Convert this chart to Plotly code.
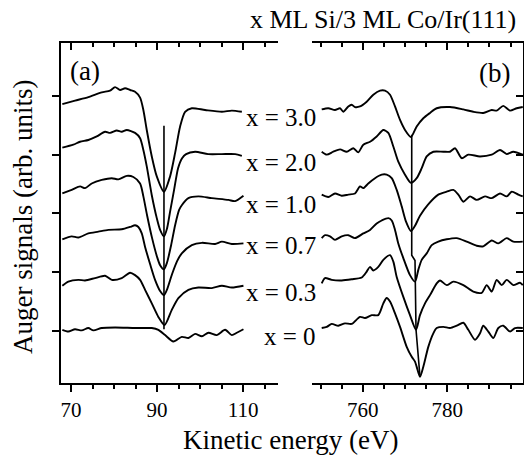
import plotly.graph_objects as go

# ---------------- data: panel (a), Si LVV region (eV, arb. units) ----------------
a30_x = [67.98, 70.93, 74.02, 77.14, 79.07, 80.23, 81.40, 82.56, 83.72, 84.88, 86.05, 86.81, 87.60, 88.77, 89.93, 91.6, 93.02, 94.19, 95.35, 96.51, 98.07, 101.16, 105.05, 107.37, 109.70]
a30_y = [3.86, 3.92, 3.98, 4.06, 4.09, 4.15, 4.10, 4.13, 4.10, 4.07, 3.97, 3.76, 3.42, 2.97, 2.63, 2.37, 2.63, 3.03, 3.48, 3.73, 3.79, 3.76, 3.73, 3.75, 3.73]

a20_x = [67.98, 70.53, 72.09, 74.02, 75.98, 77.91, 79.07, 80.63, 81.79, 82.95, 84.88, 86.05, 86.81, 87.60, 88.77, 89.93, 90.70, 91.6, 92.33, 93.02, 93.95, 94.88, 95.81, 96.74, 98.84, 101.86, 105.05, 108.14, 109.70]
a20_y = [3.12, 3.17, 3.22, 3.25, 3.31, 3.39, 3.37, 3.41, 3.39, 3.42, 3.37, 3.28, 3.08, 2.80, 2.31, 1.92, 1.72, 1.61, 1.75, 2.03, 2.40, 2.77, 2.94, 3.01, 3.05, 3.01, 3.01, 3.01, 2.98]

a10_x = [67.98, 70.16, 72.09, 73.26, 74.81, 77.14, 79.47, 81.00, 82.95, 84.49, 86.05, 86.81, 87.67, 88.84, 90.00, 90.70, 91.6, 92.33, 93.26, 94.19, 95.12, 95.74, 97.28, 99.60, 102.72, 106.58, 108.14, 110.07]
a10_y = [2.34, 2.40, 2.46, 2.43, 2.51, 2.57, 2.60, 2.58, 2.64, 2.62, 2.51, 2.29, 1.97, 1.58, 1.26, 1.12, 1.05, 1.17, 1.46, 1.80, 2.06, 2.14, 2.26, 2.29, 2.26, 2.23, 2.21, 2.30]

a07_x = [67.98, 70.16, 71.70, 74.02, 76.35, 78.67, 81.79, 83.72, 84.88, 85.65, 86.44, 87.21, 88.37, 89.53, 90.70, 91.6, 92.33, 93.49, 94.65, 95.74, 98.07, 100.40, 103.49, 105.05, 107.37, 110.07]
a07_y = [1.56, 1.61, 1.59, 1.66, 1.69, 1.72, 1.73, 1.77, 1.80, 1.77, 1.66, 1.43, 1.14, 0.87, 0.68, 0.61, 0.71, 0.97, 1.19, 1.32, 1.46, 1.50, 1.48, 1.52, 1.48, 1.49]

a03_x = [67.98, 69.37, 71.70, 73.26, 75.58, 77.91, 79.47, 81.79, 83.72, 84.88, 86.05, 87.21, 88.77, 90.30, 91.74, 93.42, 94.95, 97.28, 99.60, 102.72, 105.05, 107.37, 110.07]
a03_y = [0.77, 0.84, 0.87, 0.86, 0.90, 0.94, 0.87, 0.90, 0.99, 0.95, 0.87, 0.70, 0.47, 0.24, 0.10, 0.36, 0.56, 0.70, 0.74, 0.73, 0.77, 0.74, 0.77]

a00_x = [67.98, 69.37, 70.93, 72.49, 74.02, 75.19, 77.14, 80.23, 84.88, 87.21, 88.77, 90.30, 91.86, 93.79, 95.74, 97.28, 98.84, 100.40, 101.93, 103.88, 105.81, 107.37, 108.53, 110.07]
a00_y = [0.02, -0.01, 0.03, 0.01, 0.05, 0.01, 0.05, 0.06, 0.05, 0.05, 0.05, 0.02, -0.07, -0.18, -0.10, -0.12, -0.05, -0.09, -0.03, -0.07, 0.02, -0.07, -0.03, 0.03]

a_marker_x = [91.6, 91.6]
a_marker_y = [3.49, 0.03]

# ---------------- data: panel (b), Co LMM region ----------------
b30_x = [750.26, 751.82, 753.41, 754.60, 755.38, 756.56, 757.37, 758.15, 759.34, 760.92, 762.49, 764.08, 765.26, 766.45, 767.63, 768.82, 770.0, 771.4, 772.77, 774.34, 775.92, 777.51, 780.66, 783.82, 786.18, 788.55, 790.55, 791.73, 793.29, 794.88, 796.47, 797.9]
b30_y = [3.77, 3.79, 3.76, 3.79, 3.73, 3.82, 3.85, 3.81, 3.82, 3.90, 4.02, 4.09, 4.09, 4.02, 3.82, 3.59, 3.42, 3.30, 3.48, 3.62, 3.71, 3.79, 3.81, 3.77, 3.73, 3.71, 3.76, 3.75, 3.83, 3.75, 3.79, 3.81]

b20_x = [750.26, 751.45, 753.01, 754.60, 756.18, 757.75, 758.93, 760.12, 761.71, 763.29, 764.86, 766.04, 767.23, 768.41, 770.0, 771.4, 772.77, 773.96, 775.14, 776.71, 779.08, 780.66, 781.85, 783.44, 785.0, 787.77, 790.55, 792.51, 794.10, 795.66, 797.9]
b20_y = [3.05, 3.00, 3.05, 3.09, 3.05, 3.11, 3.04, 3.17, 3.22, 3.31, 3.42, 3.37, 3.14, 2.88, 2.66, 2.52, 2.60, 2.77, 2.97, 3.05, 3.05, 3.05, 3.11, 2.94, 3.00, 2.97, 3.00, 3.08, 3.01, 3.05, 3.00]

b10_x = [750.26, 751.82, 753.41, 755.0, 756.56, 758.15, 759.34, 760.12, 761.30, 762.89, 764.48, 765.66, 766.85, 768.03, 769.22, 770.24, 771.4, 772.37, 773.55, 775.45, 777.89, 779.88, 781.45, 782.63, 783.82, 785.40, 786.99, 788.96, 790.55, 792.51, 794.10, 795.28, 796.85, 797.9]
b10_y = [2.32, 2.28, 2.34, 2.30, 2.32, 2.34, 2.46, 2.43, 2.51, 2.60, 2.66, 2.66, 2.60, 2.40, 2.12, 1.86, 1.70, 1.79, 1.96, 2.15, 2.32, 2.37, 2.40, 2.32, 2.20, 2.29, 2.23, 2.29, 2.26, 2.34, 2.29, 2.37, 2.32, 2.29]

b07_x = [750.26, 751.04, 752.23, 753.41, 755.0, 756.56, 758.15, 760.12, 761.71, 763.29, 764.48, 766.04, 766.85, 767.63, 768.41, 769.60, 771.18, 772.37, 773.15, 773.96, 775.14, 776.33, 777.89, 779.88, 782.25, 784.62, 786.99, 788.55, 790.55, 792.11, 794.10, 795.66, 797.9]
b07_y = [1.58, 1.63, 1.61, 1.55, 1.61, 1.63, 1.58, 1.66, 1.72, 1.83, 1.88, 1.92, 1.88, 1.72, 1.49, 1.24, 0.95, 0.84, 1.04, 1.21, 1.32, 1.46, 1.52, 1.56, 1.58, 1.52, 1.45, 1.44, 1.54, 1.49, 1.58, 1.52, 1.52]

b03_x = [750.26, 751.04, 752.63, 755.0, 757.37, 759.74, 760.92, 761.71, 762.49, 763.67, 764.86, 766.45, 767.23, 768.03, 769.60, 771.18, 772.61, 773.55, 774.74, 775.92, 777.51, 778.29, 779.88, 781.45, 783.82, 786.18, 788.18, 789.36, 790.55, 791.73, 792.91, 794.10, 795.66, 797.25, 797.9]
b03_y = [0.81, 0.90, 0.87, 0.86, 0.88, 0.91, 1.01, 1.09, 1.03, 1.09, 1.21, 1.29, 1.18, 0.92, 0.58, 0.27, 0.02, 0.27, 0.47, 0.61, 0.81, 0.86, 0.78, 0.84, 0.78, 0.67, 0.65, 0.78, 0.67, 0.87, 0.78, 0.87, 0.78, 0.82, 0.78]

b00_x = [750.26, 751.45, 752.63, 754.19, 755.78, 757.37, 759.34, 760.52, 762.11, 763.67, 764.86, 765.66, 766.45, 767.63, 768.82, 770.40, 771.59, 772.37, 772.77, 773.55, 774.34, 775.52, 776.71, 777.51, 779.08, 780.66, 782.25, 783.82, 785.0, 786.59, 787.77, 788.55, 789.74, 790.92, 792.11, 793.29, 794.88, 796.07, 797.9]
b00_y = [0.05, 0.07, 0.12, 0.09, 0.13, 0.12, 0.24, 0.22, 0.27, 0.27, 0.47, 0.56, 0.50, 0.30, 0.07, -0.27, -0.44, -0.52, -0.61, -0.78, -0.61, -0.27, -0.04, 0.05, 0.07, 0.05, 0.09, 0.14, 0.02, -0.15, -0.04, 0.09, -0.01, -0.12, 0.05, 0.09, -0.01, 0.05, 0.05]

b_marker_x = [771.59, 771.59, 772.37, 772.61, 773.55]
b_marker_y = [3.34, 1.29, 1.20, 0.02, -0.78]

coverage_labels = ["x = 3.0", "x = 2.0", "x = 1.0", "x = 0.7", "x = 0.3", "x = 0"]
label_y = [3.63, 2.86, 2.15, 1.45, 0.65, -0.10]

a_ticks = [70, 90, 110]
b_ticks = [760, 780]
y_ticks = [0, 1, 2, 3, 4]

# ---------------- figure ----------------
FONT = "Liberation Serif"
LW = 1.9
fig = go.Figure()

panel_a = [(a30_x, a30_y), (a20_x, a20_y), (a10_x, a10_y), (a07_x, a07_y), (a03_x, a03_y), (a00_x, a00_y)]
panel_b = [(b30_x, b30_y), (b20_x, b20_y), (b10_x, b10_y), (b07_x, b07_y), (b03_x, b03_y), (b00_x, b00_y)]

for xs, ys in panel_a:
    fig.add_trace(go.Scatter(x=xs, y=ys, mode="lines", xaxis="x", yaxis="y",
                             line=dict(color="black", width=LW, shape="spline", smoothing=0.7),
                             showlegend=False, hoverinfo="skip"))
for xs, ys in panel_b:
    fig.add_trace(go.Scatter(x=xs, y=ys, mode="lines", xaxis="x2", yaxis="y2",
                             line=dict(color="black", width=LW, shape="spline", smoothing=0.7),
                             showlegend=False, hoverinfo="skip"))

fig.add_trace(go.Scatter(x=a_marker_x, y=a_marker_y, mode="lines", xaxis="x", yaxis="y",
                         line=dict(color="black", width=1.6), showlegend=False, hoverinfo="skip"))
fig.add_trace(go.Scatter(x=b_marker_x, y=b_marker_y, mode="lines", xaxis="x2", yaxis="y2",
                         line=dict(color="black", width=1.6), showlegend=False, hoverinfo="skip"))

L, R, T, B = 61, 1, 43, 78
W, H = 524, 461
pw = W - L - R
ph = H - T - B
dom_a = [0, (278 - L) / pw]
dom_b = [(312 - L) / pw, 1]
xr_a = [67.67, 118.1]
xr_b = [747.96, 797.96]
yr = [-0.885, 4.90]

axis_common = dict(showline=True, linecolor="black", linewidth=2, showgrid=False, zeroline=False,
                   tickcolor="black", tickwidth=2,
                   tickfont=dict(family=FONT, size=21, color="black"))

fig.update_layout(
    width=W, height=H, margin=dict(l=L, r=R, t=T, b=B),
    paper_bgcolor="white", plot_bgcolor="white",
    font=dict(family=FONT, color="black"),
    xaxis=dict(domain=dom_a, range=xr_a, anchor="y", ticks="outside", ticklen=7,
               tickmode="array", tickvals=a_ticks,
               minor=dict(ticks="outside", ticklen=4, tickwidth=2, tickcolor="black", tick0=0, dtick=5),
               **axis_common),
    xaxis2=dict(domain=dom_b, range=xr_b, anchor="y2", ticks="outside", ticklen=7,
                tickmode="array", tickvals=b_ticks,
                minor=dict(ticks="outside", ticklen=4, tickwidth=2, tickcolor="black", tick0=0, dtick=5),
                **axis_common),
    xaxis3=dict(overlaying="x", matches="x", side="top", anchor="y", ticks="inside", ticklen=7,
                tickmode="array", tickvals=a_ticks, showticklabels=False,
                minor=dict(ticks="inside", ticklen=4, tickwidth=2, tickcolor="black", tick0=0, dtick=5),
                **axis_common),
    xaxis4=dict(overlaying="x2", matches="x2", side="top", anchor="y2", ticks="inside", ticklen=7,
                tickmode="array", tickvals=b_ticks, showticklabels=False,
                minor=dict(ticks="inside", ticklen=4, tickwidth=2, tickcolor="black", tick0=0, dtick=5),
                **axis_common),
    yaxis=dict(domain=[0, 1], range=yr, anchor="x", side="left", ticks="outside", ticklen=7,
               tickmode="array", tickvals=y_ticks, showticklabels=False, **axis_common),
    yaxis2=dict(domain=[0, 1], range=yr, anchor="x2", side="right", ticks="inside", ticklen=7,
                tickmode="array", tickvals=y_ticks, showticklabels=False, **axis_common),
)

# invisible anchors so the top axes render
fig.add_trace(go.Scatter(x=[xr_a[0]], y=[yr[0]], xaxis="x3", yaxis="y", mode="markers",
                         marker=dict(opacity=0), showlegend=False, hoverinfo="skip"))
fig.add_trace(go.Scatter(x=[xr_b[0]], y=[yr[0]], xaxis="x4", yaxis="y2", mode="markers",
                         marker=dict(opacity=0), showlegend=False, hoverinfo="skip"))

def px_x(px):
    return (px - L) / pw

def px_y(py):
    return (H - B - py) / ph

annotations = []
for txt, yv in zip(coverage_labels, label_y):
    annotations.append(dict(text=txt, x=749.4, y=yv, xref="x2", yref="y2", xanchor="right",
                            yanchor="middle", showarrow=False,
                            font=dict(family=FONT, size=25, color="black")))
annotations += [
    dict(text="x ML Si/3 ML Co/Ir(111)", x=px_x(518), y=px_y(19), xref="paper", yref="paper",
         xanchor="right", yanchor="middle", showarrow=False, font=dict(family=FONT, size=26)),
    dict(text="(a)", x=px_x(68), y=px_y(71), xref="paper", yref="paper",
         xanchor="left", yanchor="middle", showarrow=False, font=dict(family=FONT, size=27)),
    dict(text="(b)", x=px_x(512), y=px_y(73), xref="paper", yref="paper",
         xanchor="right", yanchor="middle", showarrow=False, font=dict(family=FONT, size=27)),
    dict(text="Kinetic energy (eV)", x=px_x(290), y=px_y(440), xref="paper", yref="paper",
         xanchor="center", yanchor="middle", showarrow=False, font=dict(family=FONT, size=27)),
    dict(text="Auger signals (arb. units)", x=px_x(23), y=px_y(217), xref="paper", yref="paper",
         xanchor="center", yanchor="middle", textangle=-90, showarrow=False,
         font=dict(family=FONT, size=27)),
]
fig.update_layout(annotations=annotations)

fig.write_html("out.html", config={"displayModeBar": False, "staticPlot": True},
               post_script="document.body.style.margin='0';document.body.style.padding='0';"
                           "document.body.style.overflow='hidden';")
